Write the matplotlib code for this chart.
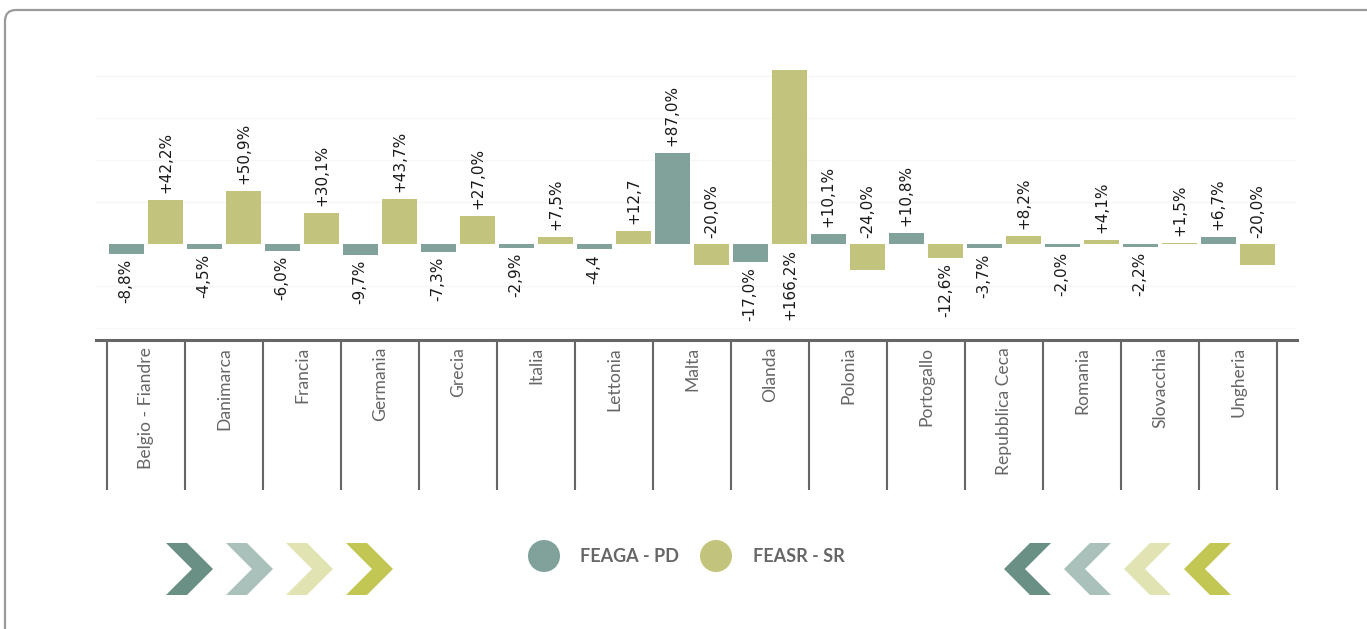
import matplotlib
matplotlib.use("Agg")
import matplotlib.pyplot as plt
import matplotlib.transforms as mtransforms
from matplotlib.patches import Polygon, Circle, FancyBboxPatch
import numpy as np

countries = ["Belgio - Fiandre", "Danimarca", "Francia", "Germania", "Grecia",
             "Italia", "Lettonia", "Malta", "Olanda", "Polonia", "Portogallo",
             "Repubblica Ceca", "Romania", "Slovacchia", "Ungheria"]
feaga = [-8.8, -4.5, -6.0, -9.7, -7.3, -2.9, -4.4, 87.0, -17.0, 10.1, 10.8,
         -3.7, -2.0, -2.2, 6.7]
feasr = [42.2, 50.9, 30.1, 43.7, 27.0, 7.5, 12.7, -20.0, 166.2, -24.0, -12.6,
         8.2, 4.1, 1.5, -20.0]
feaga_labels = ["-8,8%", "-4,5%", "-6,0%", "-9,7%", "-7,3%", "-2,9%", "-4,4",
                "+87,0%", "-17,0%", "+10,1%", "+10,8%", "-3,7%", "-2,0%",
                "-2,2%", "+6,7%"]
feasr_labels = ["+42,2%", "+50,9%", "+30,1%", "+43,7%", "+27,0%", "+7,5%",
                "+12,7", "-20,0%", "+166,2%", "-24,0%", "-12,6%", "+8,2%",
                "+4,1%", "+1,5%", "-20,0%"]
series_names = ["FEAGA - PD", "FEASR - SR"]

C_FEAGA = "#80a29a"
C_FEASR = "#c2c47e"
GREY = "#666666"
W, H = 1367, 629


def chevron(x0, y0, right=True):
    # 47 x 52 px arrow head, pixel coords of the overlay axes
    if right:
        pts = [(0, 0), (21, 0), (47, 26), (21, 52), (0, 52), (26, 26)]
    else:
        pts = [(47, 0), (26, 0), (0, 26), (26, 52), (47, 52), (21, 26)]
    return [(x0 + px, y0 + py) for px, py in pts]


def main():
    fig = plt.figure(figsize=(W / 100, H / 100), dpi=100)
    fig.patch.set_facecolor("white")

    # overlay in pixel coordinates for frame, legend and decorations
    deco = fig.add_axes([0, 0, 1, 1])
    deco.set_xlim(0, W)
    deco.set_ylim(H, 0)
    deco.axis("off")

    deco.add_patch(FancyBboxPatch((5, 10), W + 20, H + 20,
                                  boxstyle="round,pad=0,rounding_size=11",
                                  fc="none", ec="#9a9a9a", lw=1.6, clip_on=False))

    chev_cols = ["#6a8f84", "#aac0ba", "#e1e4b2", "#c2c653"]
    for i, c in enumerate(chev_cols):
        deco.add_patch(Polygon(chevron(166 + i * 60, 543, True), closed=True, fc=c, ec="none"))
        deco.add_patch(Polygon(chevron(1004 + i * 60, 543, False), closed=True, fc=c, ec="none"))

    for cx, tx, col, name in [(544, 580, C_FEAGA, series_names[0]),
                              (716, 753, C_FEASR, series_names[1])]:
        deco.add_patch(Circle((cx, 556), 16, fc=col, ec="none"))
        deco.text(tx, 557, name, ha="left", va="center", fontsize=13,
                  fontweight="bold", color=GREY, family="Lato")

    # main chart
    ax = fig.add_axes([96 / W, (H - 340) / H, 1201 / W, 280 / H])
    x = np.arange(len(countries))
    bw = 0.45
    off = 0.255
    ax.bar(x - off, feaga, bw, color=C_FEAGA, zorder=2)
    ax.bar(x + off, feasr, bw, color=C_FEASR, zorder=2)

    ax.set_xlim(-0.5 - 11 / 78, 14.5 + 20 / 78)
    ax.set_ylim(-91, 175.7)
    ax.set_yticks([-80, -40, 40, 80, 120, 160])
    ax.yaxis.grid(True, color="#f6f6f6", lw=1)
    ax.set_axisbelow(True)
    ax.tick_params(axis="y", length=0, labelleft=False)
    for s in ["top", "left", "right"]:
        ax.spines[s].set_visible(False)
    ax.spines["bottom"].set_color(GREY)
    ax.spines["bottom"].set_linewidth(2.2)

    ax.set_xticks(x)
    ax.set_xticklabels(countries, rotation=90, family="Lato", fontsize=12.6, color=GREY)
    ax.tick_params(axis="x", length=0, pad=5)

    trans = mtransforms.blended_transform_factory(ax.transData, ax.transAxes)
    for b in np.arange(-0.5, len(countries), 1):
        ax.plot([b, b], [0, -0.536], transform=trans, color=GREY, lw=1.5,
                clip_on=False, solid_capstyle="butt")

    def put(xpos, v, txt, up):
        if up:
            ax.annotate(txt, (xpos, max(v, 0)), xytext=(0, 5), textcoords="offset points",
                        rotation=90, ha="center", va="bottom", fontsize=11, color="#1a1a1a")
        else:
            ax.annotate(txt, (xpos, min(v, 0)), xytext=(0, -3.5), textcoords="offset points",
                        rotation=90, ha="center", va="top", fontsize=11, color="#1a1a1a")

    for i in range(len(countries)):
        put(x[i] - off, feaga[i], feaga_labels[i], feaga[i] > 0)
        v = feasr[i]
        if v > 150:
            # bar runs to the top edge, label goes under the baseline
            put(x[i] + off, 0, feasr_labels[i], False)
        elif v <= -20:
            put(x[i] + off, 0, feasr_labels[i], True)
        else:
            put(x[i] + off, v, feasr_labels[i], v > 0)

    fig.savefig("out.png", dpi=100, facecolor="white")


if __name__ == "__main__":
    main()
